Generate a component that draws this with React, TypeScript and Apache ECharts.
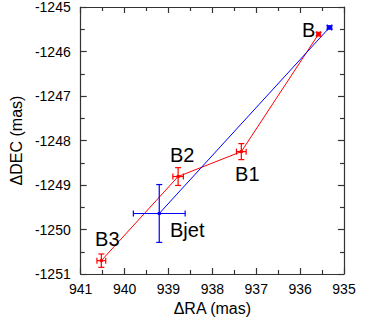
import React, { useEffect, useRef } from "react";
import * as echarts from "echarts";

// Red components (B, B1, B2, B3)
const redNames = ["B3", "B2", "B1", "B"];
const redRA = [940.53, 938.78, 937.34, 935.58];
const redDEC = [-1250.7, -1248.81, -1248.25, -1245.61];
const redRAErr = [0.1, 0.12, 0.11, 0.04];
const redDECErr = [0.15, 0.2, 0.18, 0.04];

// Blue components (Bjet and core)
const blueNames = ["Bjet", ""];
const blueRA = [939.21, 935.33];
const blueDEC = [-1249.64, -1245.46];
const blueRAErr = [0.59, 0.05];
const blueDECErr = [0.65, 0.04];

// label offsets (style only)
const labelOffsets: Record<string, [number, number]> = {
  B: [-10, -4],
  B2: [4, -22],
  B1: [6, 22],
  B3: [6, -22],
  Bjet: [28, 17],
};

const FONT = "Liberation Sans, Arial, Helvetica, sans-serif";

function errData(ra: number[], dec: number[], rae: number[], dece: number[]) {
  return ra.map((r, i) => [r, dec[i], rae[i], dece[i]]);
}

function makeErrSeries(data: number[][], color: string) {
  return {
    type: "custom",
    data,
    z: 3,
    renderItem: (params: any, api: any) => {
      const x = api.value(0);
      const y = api.value(1);
      const ex = api.value(2);
      const ey = api.value(3);
      const c = api.coord([x, y]);
      const l = api.coord([x + ex, y]);
      const r = api.coord([x - ex, y]);
      const t = api.coord([x, y + ey]);
      const b = api.coord([x, y - ey]);
      const cap = 3;
      const style = { stroke: color, lineWidth: 1.2 };
      return {
        type: "group",
        children: [
          { type: "line", shape: { x1: l[0], y1: c[1], x2: r[0], y2: c[1] }, style },
          { type: "line", shape: { x1: l[0], y1: c[1] - cap, x2: l[0], y2: c[1] + cap }, style },
          { type: "line", shape: { x1: r[0], y1: c[1] - cap, x2: r[0], y2: c[1] + cap }, style },
          { type: "line", shape: { x1: c[0], y1: t[1], x2: c[0], y2: b[1] }, style },
          { type: "line", shape: { x1: c[0] - cap, y1: t[1], x2: c[0] + cap, y2: t[1] }, style },
          { type: "line", shape: { x1: c[0] - cap, y1: b[1], x2: c[0] + cap, y2: b[1] }, style },
        ],
      };
    },
  };
}

function makeLineSeries(names: string[], ra: number[], dec: number[], color: string) {
  return {
    type: "line",
    z: 2,
    data: ra.map((r, i) => {
      const name = names[i];
      const off = labelOffsets[name];
      return {
        value: [r, dec[i]],
        name,
        label: off
          ? {
              show: true,
              formatter: name,
              position: "inside",
              offset: [off[0], off[1]],
              align: "center",
              verticalAlign: "middle",
              color: "#000",
              fontSize: 20,
              fontFamily: FONT,
            }
          : { show: false },
      };
    }),
    symbol: "rect",
    symbolSize: 3,
    showSymbol: true,
    itemStyle: { color },
    lineStyle: { color, width: 1 },
  };
}

const axisLineStyle = { color: "#333", width: 1.2 };

export default function App() {
  const ref = useRef<HTMLDivElement>(null);
  useEffect(() => {
    const chart = echarts.init(ref.current!, null, { renderer: "svg" });
    const common = {
      type: "value",
      interval: 1,
      axisLine: { show: true, lineStyle: axisLineStyle, onZero: false },
      axisTick: { show: true, inside: true, length: 6, lineStyle: axisLineStyle },
      minorTick: { show: true, splitNumber: 2, length: 4, lineStyle: axisLineStyle },
      splitLine: { show: false },
    };
    const fmt = (v: number) => String(v);
    chart.setOption({
      animation: false,
      backgroundColor: "#fff",
      grid: { left: 77, right: 23, top: 7, bottom: 53 },
      xAxis: [
        {
          ...common,
          min: 935,
          max: 941,
          inverse: true,
          position: "bottom",
          name: "\u0394RA (mas)",
          nameLocation: "middle",
          nameGap: 26,
          nameTextStyle: { fontSize: 16, fontFamily: FONT, color: "#000" },
          axisLabel: { fontSize: 14, fontFamily: FONT, color: "#000", margin: 8, formatter: fmt },
        },
        {
          ...common,
          min: 935,
          max: 941,
          inverse: true,
          position: "top",
          axisLabel: { show: false },
        },
      ],
      yAxis: [
        {
          ...common,
          min: -1251,
          max: -1245,
          position: "left",
          name: "\u0394DEC (mas)",
          nameLocation: "middle",
          nameGap: 55,
          nameTextStyle: { fontSize: 16, fontFamily: FONT, color: "#000" },
          axisLabel: { fontSize: 14, fontFamily: FONT, color: "#000", margin: 10, formatter: fmt },
        },
        {
          ...common,
          min: -1251,
          max: -1245,
          position: "right",
          axisLabel: { show: false },
        },
      ],
      series: [
        makeLineSeries(redNames, redRA, redDEC, "#ff0000"),
        makeLineSeries(blueNames, blueRA, blueDEC, "#0000ff"),
        makeErrSeries(errData(redRA, redDEC, redRAErr, redDECErr), "#ff0000"),
        makeErrSeries(errData(blueRA, blueDEC, blueRAErr, blueDECErr), "#0000ff"),
      ],
    });
    return () => chart.dispose();
  }, []);
  return <div ref={ref} style={{ width: 367, height: 327, position: "absolute", left: 0, top: 0 }} />;
}
